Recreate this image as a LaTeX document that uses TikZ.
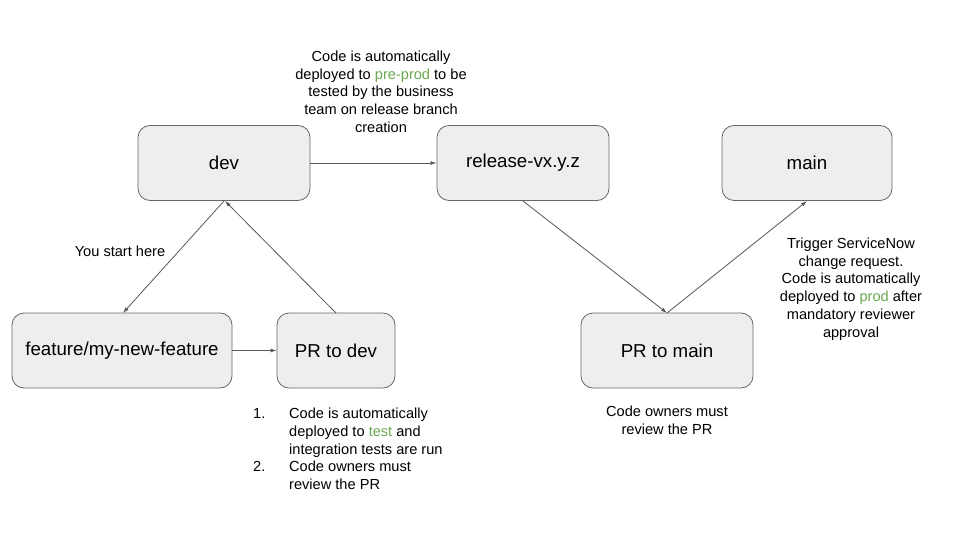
\documentclass[tikz,border=0pt]{standalone}
\usepackage{fontspec}
\setmainfont{Liberation Sans}
\usetikzlibrary{arrows.meta}
\definecolor{boxfill}{HTML}{EEEEEE}
\definecolor{boxline}{HTML}{666666}
\definecolor{arrowc}{HTML}{595959}
\definecolor{grn}{HTML}{6AA84F}
\begin{document}
\begin{tikzpicture}[x=1pt,y=-1pt,
  box/.style={draw=boxline,fill=boxfill,rounded corners=12pt,line width=0.8pt,
    minimum height=75pt,inner sep=0pt,font=\fontsize{18.7}{22}\selectfont},
  conn/.style={draw=arrowc,line width=0.8pt,-{Latex[length=6pt,width=4pt]}},
  lbl/.style={align=center,inner sep=0pt,font=\fontsize{14.6}{17.75}\selectfont}]
\useasboundingbox (0,0) rectangle (960,540);
\node[box,minimum width=172pt] (dev) at (224,163) {dev};
\node[box,minimum width=172pt] (rel) at (523,163) {release-vx.y.z};
\node[box,minimum width=170pt] (main) at (807,163) {main};
\node[box,minimum width=220pt] (feat) at (122,350.5) {feature/my-new-feature};
\node[box,minimum width=118pt] (prdev) at (336,350.5) {PR to dev};
\node[box,minimum width=172pt] (prmain) at (667,350.5) {PR to main};

\coordinate (devb) at (224,201);
\coordinate (devb2) at (225,201);
\coordinate (relb) at (523,201);
\coordinate (mainb) at (807,201);
\coordinate (featt) at (123,313);
\coordinate (prdevt) at (336,313);
\coordinate (prmaint) at (667,313);

\draw[conn] (dev.east) -- (rel.west);
\draw[conn] (devb) -- (featt);
\draw[conn] (prdevt) -- (devb2);
\draw[conn] (feat.east) -- (prdev.west);
\draw[conn] (relb) -- (prmaint);
\draw[conn] (prmaint) -- (mainb);

\node[lbl,anchor=north] (toplbl) at (381,50.5) {Code is automatically\\deployed to \textcolor{grn}{pre-prod} to be\\tested by the business\\team on release branch\\creation};
\node[lbl] (start) at (120,251) {You start here};
\node[lbl,anchor=north] (rlbl) at (851,237.5) {Trigger ServiceNow\\change request.\\Code is automatically\\deployed to \textcolor{grn}{prod} after\\mandatory reviewer\\approval};
\node[lbl,anchor=north] (owners) at (667,405.5) {Code owners must\\review the PR};
\node[lbl,anchor=north west,align=left] (list) at (253,406) {%
  \begin{tabular}{@{}p{36pt}@{}l@{}}
  1. & Code is automatically\\
     & deployed to \textcolor{grn}{test} and\\
     & integration tests are run\\
  2. & Code owners must\\
     & review the PR
  \end{tabular}};
\end{tikzpicture}
\end{document}
